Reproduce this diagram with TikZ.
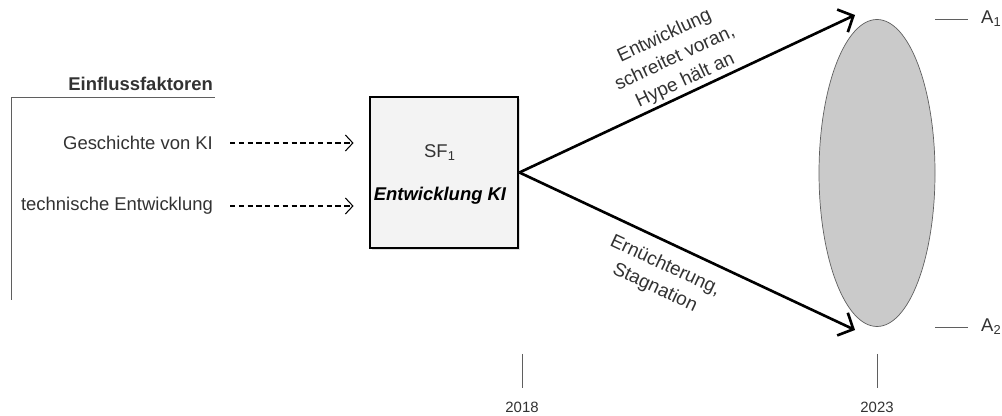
\documentclass[tikz,border=0pt]{standalone}
\usepackage{fontspec}
\setmainfont{Liberation Sans}
\usepackage{tikz}
\usetikzlibrary{arrows.meta,shapes,positioning,shadows}
\usepackage{xcolor}
\definecolor{sztext}{RGB}{50,50,50}
\definecolor{szline}{RGB}{95,95,95}
\definecolor{szbox}{RGB}{243,243,243}
\definecolor{szellipse}{RGB}{202,202,202}
\tikzstyle{factor} = [anchor=east, text=sztext, inner sep=1pt, font=\fontsize{10.5}{12}\selectfont]
\tikzstyle{dasharrow} = [densely dashed, semithick, color=black, -{Straight Barb[length=1.5mm,width=3.2mm]}]
\tikzstyle{trend} = [line width=1.5pt, color=black, -{Straight Barb[length=2.4mm,width=5mm,line width=1.5pt]}]
\tikzstyle{trendlabel} = [align=center, text=sztext, inner sep=1pt, font=\fontsize{10.8}{14}\selectfont]
\tikzstyle{keyfactor} = [rectangle, draw=black, line width=1.6pt, fill=szbox, minimum width=2.96cm, minimum height=3.02cm, drop shadow={opacity=0.25, shadow xshift=0.04cm, shadow yshift=-0.04cm}]
\tikzstyle{scenario} = [ellipse, draw=szline, thin, fill=szellipse, minimum width=2.32cm, minimum height=6.14cm]
\tikzstyle{tick} = [szline, thin]
\tikzstyle{year} = [text=sztext, font=\fontsize{8.5}{10}\selectfont]

\begin{document}
\begin{tikzpicture}
    \useasboundingbox (0,0) rectangle (20.04,8.32);

    % Influencing factors
    \draw[szline] (0.22,2.32) -- (0.22,6.38) -- (4.3,6.38);
    \node[factor, anchor=base east, font=\fontsize{10.5}{12}\selectfont\bfseries] (title) at (4.3,6.5) {Einflussfaktoren};
    \node[factor] (hist) at (4.3,5.46) {Geschichte von KI};
    \node[factor] (tech) at (4.3,4.2) {technische Entwicklung};

    % Key factor
    \node[keyfactor] (sf) at (8.88,4.87) {};
    \node[text=sztext, font=\fontsize{10.5}{12}\selectfont] (sfname) at (8.8,5.26) {SF\textsubscript{1}};
    \node[text=black, font=\fontsize{10.5}{12}\selectfont\bfseries\itshape] (sftitle) at (8.8,4.4) {Entwicklung KI};

    \draw[dasharrow, shorten <=0.3cm, shorten >=0.3cm] (hist.east) -- (hist.east -| sf.west);
    \draw[dasharrow, shorten <=0.3cm, shorten >=0.3cm] (tech.east) -- (tech.east -| sf.west);

    % Scenarios
    \node[scenario] (sc) at (17.54,4.86) {};
    \coordinate (top) at (17.1,8.02);
    \coordinate (bot) at (17.1,1.72);

    \draw[trend] (sf.east) -- (top);
    \draw[trend] (sf.east) -- (bot);

    \node[trendlabel, rotate=25] (up) at (13.5,7.15) {Entwicklung\\schreitet voran,\\Hype hält an};
    \node[trendlabel, rotate=-25] (down) at (13.2,2.78) {Ernüchterung,\\Stagnation};

    % Scenario labels
    \draw[tick] (18.7,7.94) -- (19.36,7.94) coordinate (a1);
    \draw[tick] (18.7,1.78) -- (19.36,1.78) coordinate (a2);
    \node[text=sztext, font=\fontsize{10.5}{12}\selectfont, anchor=west] (a1l) at (19.5,7.94) {A\textsubscript{1}};
    \node[text=sztext, font=\fontsize{10.5}{12}\selectfont, anchor=west] (a2l) at (19.5,1.78) {A\textsubscript{2}};

    % Timeline
    \draw[tick] (10.44,1.24) -- (10.44,0.56);
    \draw[tick] (17.54,1.24) -- (17.54,0.56);
    \node[year] (y1) at (10.44,0.17) {2018};
    \node[year] (y2) at (17.54,0.17) {2023};
\end{tikzpicture}
\end{document}
